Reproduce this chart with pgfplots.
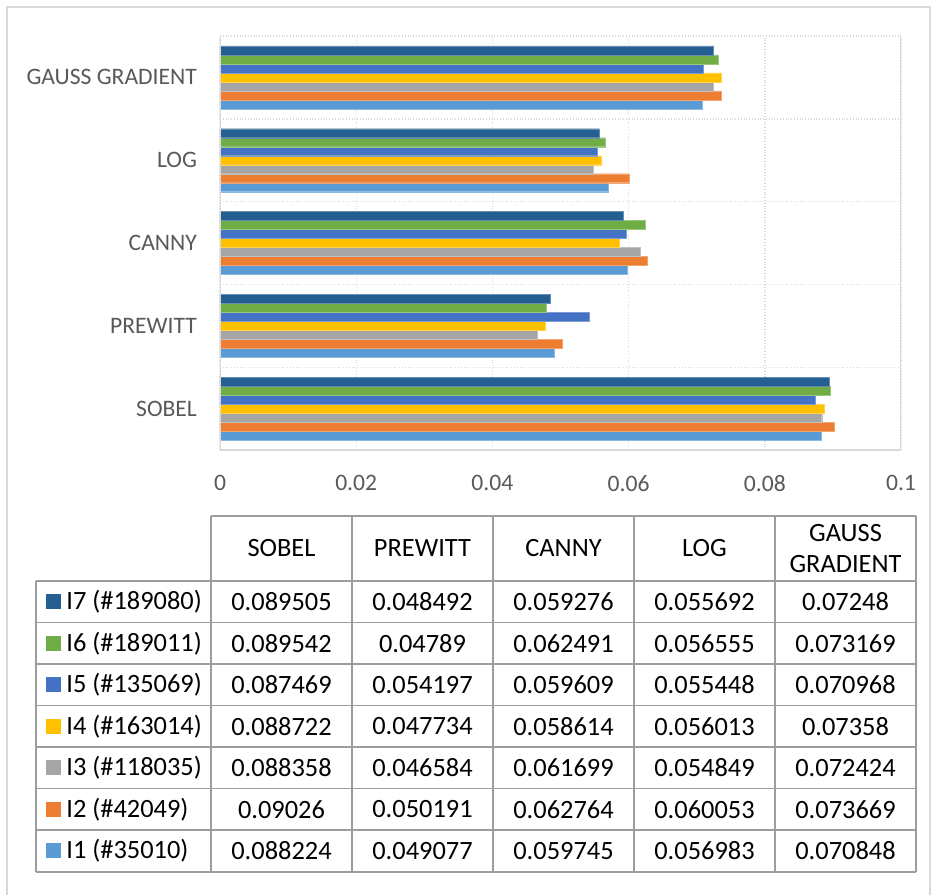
\documentclass[border=0pt]{standalone}
\usepackage{pgfplots}
\pgfplotsset{compat=1.18}
\usepackage{pgfplotstable}
\usepackage{fontspec}
\setmainfont{Carlito}
\definecolor{cI1}{HTML}{5B9BD5}
\definecolor{cI2}{HTML}{ED7D31}
\definecolor{cI3}{HTML}{A5A5A5}
\definecolor{cI4}{HTML}{FFC000}
\definecolor{cI5}{HTML}{4472C4}
\definecolor{cI6}{HTML}{70AD47}
\definecolor{cI7}{HTML}{255E91}
\definecolor{gridgray}{HTML}{D9D9D9}
\definecolor{labgray}{HTML}{595959}
\definecolor{tabgray}{HTML}{9C9C9C}
\definecolor{framegray}{HTML}{D9D9D9}

% rows: 0 SOBEL, 1 PREWITT, 2 CANNY, 3 LOG, 4 GAUSS GRADIENT
\pgfplotstableread{
cat I1 I2 I3 I4 I5 I6 I7
0 0.088224 0.09026 0.088358 0.088722 0.087469 0.089542 0.089505
1 0.049077 0.050191 0.046584 0.047734 0.054197 0.04789 0.048492
2 0.059745 0.062764 0.061699 0.058614 0.059609 0.062491 0.059276
3 0.056983 0.060053 0.054849 0.056013 0.055448 0.056555 0.055692
4 0.070848 0.073669 0.072424 0.07358 0.070968 0.073169 0.07248
}\datatable

\begin{document}
\begin{tikzpicture}
\useasboundingbox (0,0) rectangle (468.5pt,-447.5pt);
\begin{scope}[x=0.5pt,y=-0.5pt]
\draw[framegray, line width=0.8pt] (7,895) -- (7,7) -- (930,7) -- (930,895);
% table grid
\begin{scope}[tabgray, line width=0.8pt]
\draw (211,516) -- (916,516);
\foreach \yy in {581,622.5,664,705.5,747,788.5,830,872} \draw (36,\yy) -- (916,\yy);
\foreach \xx in {211,352,493,634,775,916} \draw (\xx,516) -- (\xx,872);
\draw (36,581) -- (36,872);
\end{scope}
\begin{scope}[font=\fontsize{13.2}{15.5}\selectfont, text=black]
\node at (281.5,548.5) {SOBEL};
\node at (422.5,548.5) {PREWITT};
\node at (563.5,548.5) {CANNY};
\node at (704.5,548.5) {LOG};
\node[align=center] at (845.5,548.5) {GAUSS\\GRADIENT};
% legend keys and row labels
\foreach \yy/\cc/\lab in {601.75/cI7/I7 (\#189080), 643.25/cI6/I6 (\#189011), 684.75/cI5/I5 (\#135069), 726.25/cI4/I4 (\#163014), 767.75/cI3/I3 (\#118035), 809.25/cI2/I2 (\#42049), 850.75/cI1/I1 (\#35010)} {
  \fill[\cc] (46,\yy-7.5) rectangle (61,\yy+7.5);
  \node[anchor=west, inner sep=0pt] at (66,\yy) {\lab};
}
% values
\foreach \yy/\a/\b/\c/\d/\e in {
 601.75/0.089505/0.048492/0.059276/0.055692/0.07248,
 643.25/0.089542/0.04789/0.062491/0.056555/0.073169,
 684.75/0.087469/0.054197/0.059609/0.055448/0.070968,
 726.25/0.088722/0.047734/0.058614/0.056013/0.07358,
 767.75/0.088358/0.046584/0.061699/0.054849/0.072424,
 809.25/0.09026/0.050191/0.062764/0.060053/0.073669,
 850.75/0.088224/0.049077/0.059745/0.056983/0.070848} {
  \node at (281.5,\yy) {\a};
  \node at (422.5,\yy) {\b};
  \node at (563.5,\yy) {\c};
  \node at (704.5,\yy) {\d};
  \node at (845.5,\yy) {\e};
}
\end{scope}
\end{scope}
\begin{axis}[
  at={(110pt,-225pt)}, anchor=south west,
  scale only axis, width=340.5pt, height=207pt,
  xbar=0pt, bar width=4.5pt,
  xmin=0, xmax=0.1, ymin=-0.5, ymax=4.5,
  xtick={0,0.02,0.04,0.06,0.08,0.1},
  scaled x ticks=false,
  xticklabel style={/pgf/number format/fixed, /pgf/number format/precision=2, /pgf/number format/assume math mode=true, yshift=-9pt},
  ytick={0,1,2,3,4},
  yticklabels={SOBEL,PREWITT,CANNY,LOG,GAUSS GRADIENT},
  yticklabel style={xshift=-8pt},
  minor ytick={-0.5,0.5,1.5,2.5,3.5,4.5},
  tick label style={font=\fontsize{11.8}{14}\selectfont, text=labgray},
  major tick length=0pt, minor tick length=0pt,
  tick style={draw=none},
  axis line style={draw=none},
  xmajorgrids, yminorgrids,
  major grid style={densely dotted, gridgray, line width=0.7pt},
  minor grid style={densely dotted, gridgray, line width=0.7pt},
]
\addplot[fill=cI1, draw=cI1!70!white, line width=0.2pt] table[x=I1, y=cat] {\datatable};
\addplot[fill=cI2, draw=cI2!70!white, line width=0.2pt] table[x=I2, y=cat] {\datatable};
\addplot[fill=cI3, draw=cI3!70!white, line width=0.2pt] table[x=I3, y=cat] {\datatable};
\addplot[fill=cI4, draw=cI4!70!white, line width=0.2pt] table[x=I4, y=cat] {\datatable};
\addplot[fill=cI5, draw=cI5!70!white, line width=0.2pt] table[x=I5, y=cat] {\datatable};
\addplot[fill=cI6, draw=cI6!70!white, line width=0.2pt] table[x=I6, y=cat] {\datatable};
\addplot[fill=cI7, draw=cI7!70!white, line width=0.2pt] table[x=I7, y=cat] {\datatable};
\draw[gridgray, line width=0.8pt] (rel axis cs:0,1) -- (rel axis cs:0,0) -- (rel axis cs:1,0) -- (rel axis cs:1,1);
\end{axis}
\end{tikzpicture}
\end{document}
